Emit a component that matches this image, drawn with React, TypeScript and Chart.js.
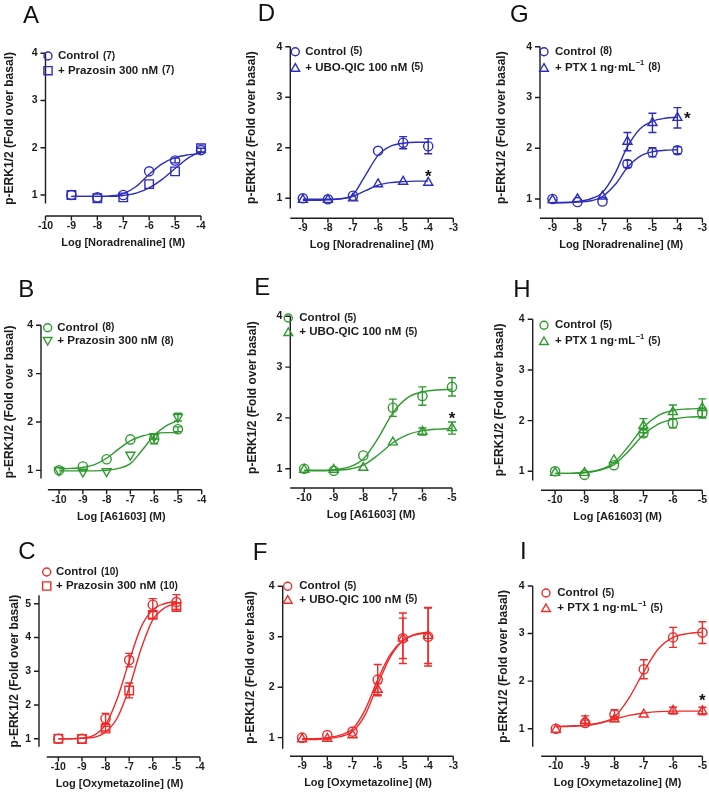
import React, { useEffect, useRef } from 'react';
import { Chart, registerables } from 'chart.js';

Chart.register(...registerables);

const FONT = '"Liberation Sans", Arial, Helvetica, sans-serif';
const BLUE = '#2d2dbd';
const GREEN = '#2f9a2f';
const RED = '#ee2a2a';
const INK = '#1c1c1c';

// ---------- text ----------
const yTitle = 'p-ERK1/2 (Fold over basal)';
const xTitleNA = 'Log [Noradrenaline] (M)';
const xTitleA6 = 'Log [A61603] (M)';
const xTitleOxy = 'Log [Oxymetazoline] (M)';

// ---------- tick labels ----------
const xTicks10to4 = [-10, -9, -8, -7, -6, -5, -4];
const xTicks9to3 = [-9, -8, -7, -6, -5, -4, -3];
const xTicks10to5 = [-10, -9, -8, -7, -6, -5];
const yTicks4 = [1, 2, 3, 4];
const yTicks5 = [1, 2, 3, 4, 5];

// ---------- concentrations ----------
const conc9to4 = [-9, -8, -7, -6, -5, -4];
const conc10to5 = [-10, -9, -8, -7, -6, -5];
const fit9to4 = [-9, -8.5, -8, -7.5, -7, -6.5, -6, -5.5, -5, -4.5, -4];
const fit10to5 = [-10, -9.5, -9, -8.5, -8, -7.5, -7, -6.5, -6, -5.5, -5];

// ---------- Panel A ----------
const ctrlA = [1.0, 0.95, 1.0, 1.5, 1.73, 1.95];
const ctrlErrA = [0, 0, 0, 0, 0.05, 0.04];
const trtA = [1.0, 0.93, 0.95, 1.23, 1.5, 1.99];
const trtErrA = [0, 0, 0, 0, 0, 0];
const ctrlFitA = [0.97, 0.97, 0.97, 0.98, 1.03, 1.18, 1.44, 1.66, 1.79, 1.85, 1.88];
const trtFitA = [0.97, 0.97, 0.97, 0.97, 0.99, 1.04, 1.15, 1.33, 1.56, 1.78, 1.93];
const legendA = ['Control', '+ Prazosin 300 nM'];
const nA = ['(7)', '(7)'];

// ---------- Panel D ----------
const ctrlD = [1.0, 0.98, 1.05, 1.94, 2.1, 2.03];
const ctrlErrD = [0, 0, 0, 0, 0.12, 0.15];
const trtD = [0.97, 0.97, 1.0, 1.28, 1.33, 1.31];
const trtErrD = [0, 0, 0, 0, 0, 0];
const ctrlFitD = [0.98, 0.98, 0.98, 0.99, 1.07, 1.46, 1.85, 2.03, 2.09, 2.11, 2.11];
const trtFitD = [0.96, 0.96, 0.97, 0.99, 1.04, 1.15, 1.26, 1.31, 1.33, 1.34, 1.34];
const legendD = ['Control', '+ UBO-QIC 100 nM'];
const nD = ['(5)', '(5)'];
const starD = { x: -4, y: 1.52 };

// ---------- Panel G ----------
const ctrlG = [1.0, 0.94, 0.95, 1.69, 1.92, 1.96];
const ctrlErrG = [0, 0, 0, 0.07, 0.09, 0.07];
const trtG = [0.98, 1.0, 1.05, 2.13, 2.5, 2.6];
const trtErrG = [0, 0, 0, 0.18, 0.19, 0.2];
const ctrlFitG = [0.93, 0.93, 0.94, 0.96, 1.05, 1.28, 1.62, 1.84, 1.93, 1.96, 1.97];
const trtFitG = [0.92, 0.93, 0.95, 1.0, 1.13, 1.5, 2.03, 2.38, 2.53, 2.59, 2.61];
const legendG = ['Control', '+ PTX 1 ng·mL'];
const supG = ['', '−1'];
const nG = ['(8)', '(8)'];
const starG = { x: -3.6, y: 2.66 };

// ---------- Panel B ----------
const ctrlB = [1.0, 1.08, 1.23, 1.64, 1.65, 1.85];
const ctrlErrB = [0, 0, 0, 0, 0.1, 0.05];
const trtB = [1.0, 0.97, 0.98, 1.32, 1.7, 2.1];
const trtErrB = [0, 0, 0, 0, 0.05, 0.08];
const ctrlFitB = [1.03, 1.04, 1.06, 1.12, 1.25, 1.44, 1.61, 1.71, 1.76, 1.78, 1.78];
const trtFitB = [0.99, 0.99, 0.99, 0.99, 1.0, 1.04, 1.14, 1.42, 1.72, 1.92, 2.03];
const legendB = ['Control', '+ Prazosin 300 nM'];
const nB = ['(8)', '(8)'];

// ---------- Panel E ----------
const ctrlE = [1.0, 0.96, 1.26, 2.2, 2.43, 2.61];
const ctrlErrE = [0, 0, 0, 0.17, 0.18, 0.18];
const trtE = [0.98, 0.98, 1.02, 1.52, 1.73, 1.8];
const trtErrE = [0, 0, 0, 0, 0.07, 0.12];
const ctrlFitE = [0.97, 0.97, 0.98, 1.03, 1.19, 1.6, 2.1, 2.4, 2.51, 2.55, 2.56];
const trtFitE = [0.96, 0.96, 0.97, 0.99, 1.07, 1.27, 1.51, 1.67, 1.75, 1.78, 1.79];
const legendE = ['Control', '+ UBO-QIC 100 nM'];
const nE = ['(5)', '(5)'];
const starE = { x: -5, y: 2.06 };

// ---------- Panel H ----------
const ctrlH = [1.0, 0.93, 1.12, 1.75, 1.95, 2.15];
const ctrlErrH = [0, 0, 0, 0.07, 0.09, 0.1];
const trtH = [0.97, 0.97, 1.22, 1.9, 2.17, 2.25];
const trtErrH = [0, 0, 0, 0.14, 0.14, 0.18];
const ctrlFitH = [0.96, 0.96, 0.97, 1.02, 1.13, 1.4, 1.72, 1.93, 2.03, 2.07, 2.08];
const trtFitH = [0.96, 0.96, 0.98, 1.03, 1.17, 1.5, 1.87, 2.1, 2.2, 2.23, 2.24];
const legendH = ['Control', '+ PTX 1 ng·mL'];
const supH = ['', '−1'];
const nH = ['(5)', '(5)'];

// ---------- Panel C ----------
const ctrlC = [1.0, 1.0, 1.6, 3.33, 4.97, 5.05];
const ctrlErrC = [0, 0, 0.15, 0.2, 0.18, 0.22];
const trtC = [1.0, 0.99, 1.3, 2.43, 4.67, 4.9];
const trtErrC = [0, 0, 0.07, 0.22, 0.1, 0.12];
const ctrlFitC = [1.0, 1.0, 1.02, 1.1, 1.42, 2.2, 3.3, 4.3, 4.82, 5.0, 5.07];
const trtFitC = [1.0, 1.0, 1.01, 1.04, 1.2, 1.62, 2.5, 3.65, 4.52, 4.88, 5.0];
const legendC = ['Control', '+ Prazosin 300 nM'];
const nC = ['(10)', '(10)'];

// ---------- Panel F ----------
const ctrlF = [1.0, 1.05, 1.12, 2.15, 2.97, 3.0];
const ctrlErrF = [0, 0, 0, 0.3, 0.5, 0.58];
const trtF = [0.97, 0.98, 1.05, 1.95, 2.97, 3.02];
const trtErrF = [0, 0, 0, 0.12, 0.4, 0.55];
const ctrlFitF = [0.98, 0.98, 1.0, 1.05, 1.17, 1.55, 2.15, 2.65, 2.93, 3.05, 3.09];
const trtFitF = [0.96, 0.96, 0.98, 1.02, 1.12, 1.45, 2.05, 2.6, 2.92, 3.04, 3.08];
const legendF = ['Control', '+ UBO-QIC 100 nM'];
const nF = ['(5)', '(5)'];

// ---------- Panel I ----------
const ctrlI = [1.0, 1.12, 1.3, 2.25, 2.92, 3.02];
const ctrlErrI = [0, 0.06, 0.1, 0.2, 0.21, 0.23];
const trtI = [0.98, 1.17, 1.2, 1.3, 1.38, 1.37];
const trtErrI = [0, 0.1, 0.05, 0, 0.07, 0.08];
const ctrlFitI = [1.05, 1.06, 1.07, 1.12, 1.25, 1.65, 2.2, 2.68, 2.92, 3.0, 3.03];
const trtFitI = [1.04, 1.05, 1.07, 1.12, 1.2, 1.28, 1.33, 1.36, 1.37, 1.37, 1.37];
const legendI = ['Control', '+ PTX 1 ng·mL'];
const supI = ['', '−1'];
const nI = ['(5)', '(5)'];
const starI = { x: -5, y: 1.68 };

// ---------- panel assembly (layout separate from data) ----------
const panels: any[] = [
  {
    letter: 'A', color: BLUE, xTitle: xTitleNA, xTicks: xTicks10to4, yTicks: yTicks4,
    conc: conc9to4, ctrl: ctrlA, ctrlErr: ctrlErrA, trt: trtA, trtErr: trtErrA,
    fitX: fit9to4, ctrlFit: ctrlFitA, trtFit: trtFitA, trtStyle: 'rect', trtRot: 0,
    legend: legendA, sup: null, n: nA, star: null,
    box: { L: 45.5, T: 53.3, R: 201, B: 216 }, xMin: -10, xMax: -4, xLine: -10,
    yMin: 0.555, yMax: 4, yLineMin: 0.82, yGap: 36,
    letterPos: [23, 22.5], leg: { mx: 48, tx: 58, rows: [56, 70.7] },
  },
  {
    letter: 'D', color: BLUE, xTitle: xTitleNA, xTicks: xTicks9to3, yTicks: yTicks4,
    conc: conc9to4, ctrl: ctrlD, ctrlErr: ctrlErrD, trt: trtD, trtErr: trtErrD,
    fitX: fit9to4, ctrlFit: ctrlFitD, trtFit: trtFitD, trtStyle: 'triangle', trtRot: 0,
    legend: legendD, sup: null, n: nD, star: starD,
    box: { L: 290.3, T: 46.7, R: 453.3, B: 218.3 }, xMin: -9.5, xMax: -3, xLine: -9.5,
    yMin: 0.604, yMax: 4, yLineMin: 0.8, yGap: 39,
    letterPos: [257.7, 20.5], leg: { mx: 295.3, tx: 305.3, rows: [51.7, 67.7] },
  },
  {
    letter: 'G', color: BLUE, xTitle: xTitleNA, xTicks: xTicks9to3, yTicks: yTicks4,
    conc: conc9to4, ctrl: ctrlG, ctrlErr: ctrlErrG, trt: trtG, trtErr: trtErrG,
    fitX: fit9to4, ctrlFit: ctrlFitG, trtFit: trtFitG, trtStyle: 'triangle', trtRot: 0,
    legend: legendG, sup: supG, n: nG, star: starG,
    box: { L: 540, T: 46.7, R: 703.3, B: 218.3 }, xMin: -9.5, xMax: -3, xLine: -9.5,
    yMin: 0.62, yMax: 4, yLineMin: 0.81, yGap: 38.3,
    letterPos: [510, 21.7], leg: { mx: 544, tx: 555, rows: [51.7, 67.7] },
  },
  {
    letter: 'B', color: GREEN, xTitle: xTitleA6, xTicks: xTicks10to4, yTicks: yTicks4,
    conc: conc10to5, ctrl: ctrlB, ctrlErr: ctrlErrB, trt: trtB, trtErr: trtErrB,
    fitX: fit10to5, ctrlFit: ctrlFitB, trtFit: trtFitB, trtStyle: 'triangle', trtRot: 180,
    legend: legendB, sup: null, n: nB, star: null,
    box: { L: 41, T: 325.3, R: 201.7, B: 489.7 }, xMin: -10.76, xMax: -4, xLine: -10.47,
    yMin: 0.6, yMax: 4, yLineMin: 0.83, yGap: 31,
    letterPos: [18.3, 297], leg: { mx: 47.7, tx: 57.3, rows: [327.7, 341] },
  },
  {
    letter: 'E', color: GREEN, xTitle: xTitleA6, xTicks: xTicks10to5, yTicks: yTicks4,
    conc: conc10to5, ctrl: ctrlE, ctrlErr: ctrlErrE, trt: trtE, trtErr: trtErrE,
    fitX: fit10to5, ctrlFit: ctrlFitE, trtFit: trtFitE, trtStyle: 'triangle', trtRot: 0,
    legend: legendE, sup: null, n: nE, star: starE,
    box: { L: 290.3, T: 316.3, R: 452, B: 488 }, xMin: -10.47, xMax: -5, xLine: -10.47,
    yMin: 0.62, yMax: 4, yLineMin: 0.8, yGap: 37.6,
    letterPos: [254.3, 295.3], leg: { mx: 288.3, tx: 299.3, rows: [318, 332] },
  },
  {
    letter: 'H', color: GREEN, xTitle: xTitleA6, xTicks: xTicks10to5, yTicks: yTicks4,
    conc: conc10to5, ctrl: ctrlH, ctrlErr: ctrlErrH, trt: trtH, trtErr: trtErrH,
    fitX: fit10to5, ctrlFit: ctrlFitH, trtFit: trtFitH, trtStyle: 'triangle', trtRot: 0,
    legend: legendH, sup: supH, n: nH, star: null,
    box: { L: 532.7, T: 319.3, R: 702.3, B: 490.3 }, xMin: -10.76, xMax: -5, xLine: -10.48,
    yMin: 0.625, yMax: 4, yLineMin: 0.82, yGap: 32.7,
    letterPos: [513.3, 297], leg: { mx: 544, tx: 555, rows: [325.3, 341] },
  },
  {
    letter: 'C', color: RED, xTitle: xTitleOxy, xTicks: xTicks10to4, yTicks: yTicks5,
    conc: conc10to5, ctrl: ctrlC, ctrlErr: ctrlErrC, trt: trtC, trtErr: trtErrC,
    fitX: fit10to5, ctrlFit: ctrlFitC, trtFit: trtFitC, trtStyle: 'rect', trtRot: 0,
    legend: legendC, sup: null, n: nC, star: null,
    box: { L: 39, T: 595.3, R: 200, B: 757 }, xMin: -10.82, xMax: -4, xLine: -10.49,
    yMin: 0.458, yMax: 5.25, yLineMin: 0.76, yGap: 24,
    letterPos: [18.3, 558.7], leg: { mx: 46.7, tx: 56, rows: [572, 586] },
  },
  {
    letter: 'F', color: RED, xTitle: xTitleOxy, xTicks: xTicks9to3, yTicks: yTicks4,
    conc: conc9to4, ctrl: ctrlF, ctrlErr: ctrlErrF, trt: trtF, trtErr: trtErrF,
    fitX: fit9to4, ctrlFit: ctrlFitF, trtFit: trtFitF, trtStyle: 'triangle', trtRot: 0,
    legend: legendF, sup: null, n: nF, star: null,
    box: { L: 282.7, T: 586.3, R: 453.3, B: 756.3 }, xMin: -9.77, xMax: -3, xLine: -9.48,
    yMin: 0.63, yMax: 4, yLineMin: 0.78, yGap: 31.7,
    letterPos: [252.7, 560.3], leg: { mx: 287.7, tx: 299.3, rows: [586.3, 599.7] },
  },
  {
    letter: 'I', color: RED, xTitle: xTitleOxy, xTicks: xTicks10to5, yTicks: yTicks4,
    conc: conc10to5, ctrl: ctrlI, ctrlErr: ctrlErrI, trt: trtI, trtErr: trtErrI,
    fitX: fit10to5, ctrlFit: ctrlFitI, trtFit: trtFitI, trtStyle: 'triangle', trtRot: 0,
    legend: legendI, sup: supI, n: nI, star: starI,
    box: { L: 532.7, T: 586, R: 703.3, B: 756.3 }, xMin: -10.79, xMax: -5, xLine: -10.5,
    yMin: 0.42, yMax: 4, yLineMin: 0.62, yGap: 29.4,
    letterPos: [520, 558.7], leg: { mx: 546, tx: 557.3, rows: [593, 608] },
  },
];

const W = 709;
const H = 795;
const HX = 33.6;
const LW = 1.4;

function markerPath(ctx: CanvasRenderingContext2D, style: string, x: number, y: number, r: number, rot: number) {
  ctx.beginPath();
  if (style === 'circle') {
    ctx.arc(x, y, r, 0, Math.PI * 2);
  } else if (style === 'rect') {
    const s = r * Math.SQRT1_2;
    ctx.rect(x - s, y - s, 2 * s, 2 * s);
  } else {
    const d = rot === 180 ? -1 : 1;
    ctx.moveTo(x, y - d * r);
    ctx.lineTo(x + r * 0.866, y + d * r * 0.5);
    ctx.lineTo(x - r * 0.866, y + d * r * 0.5);
    ctx.closePath();
  }
}

function makePlugin(p: any) {
  return {
    id: 'prism' + p.letter,
    beforeDatasetsDraw(chart: any) {
      const ctx: CanvasRenderingContext2D = chart.ctx;
      const xs = chart.scales.x;
      const ys = chart.scales.y;
      const L = chart.chartArea.left;
      const B = chart.chartArea.bottom;
      ctx.save();
      ctx.strokeStyle = INK;
      ctx.lineWidth = LW;
      ctx.beginPath();
      const yTop = ys.getPixelForValue(p.yMax);
      const yBot = ys.getPixelForValue(p.yLineMin);
      ctx.moveTo(L, yTop);
      ctx.lineTo(L, yBot);
      p.yTicks.forEach((v: number) => {
        const y = ys.getPixelForValue(v);
        ctx.moveTo(L - 5, y);
        ctx.lineTo(L, y);
      });
      ctx.moveTo(xs.getPixelForValue(p.xLine), B);
      ctx.lineTo(xs.getPixelForValue(p.xMax), B);
      p.xTicks.forEach((v: number) => {
        const x = xs.getPixelForValue(v);
        ctx.moveTo(x, B);
        ctx.lineTo(x, B + 4.5);
      });
      ctx.stroke();

      // y-axis title, centred on the drawn y-axis line
      ctx.save();
      ctx.translate(L - p.yGap, (yTop + yBot) / 2);
      ctx.rotate(-Math.PI / 2);
      ctx.fillStyle = INK;
      ctx.font = `bold 12px ${FONT}`;
      ctx.textAlign = 'center';
      ctx.textBaseline = 'middle';
      ctx.fillText(yTitle, 0, 0);
      ctx.restore();

      // error bars
      ctx.strokeStyle = p.color;
      ctx.lineWidth = LW;
      const errs = (vals: number[], e: number[]) => {
        p.conc.forEach((c: number, i: number) => {
          if (!e[i]) return;
          const px = xs.getPixelForValue(c);
          const y1 = ys.getPixelForValue(vals[i] + e[i]);
          const y2 = ys.getPixelForValue(vals[i] - e[i]);
          ctx.beginPath();
          ctx.moveTo(px, y1);
          ctx.lineTo(px, y2);
          ctx.moveTo(px - 4, y1);
          ctx.lineTo(px + 4, y1);
          ctx.moveTo(px - 4, y2);
          ctx.lineTo(px + 4, y2);
          ctx.stroke();
        });
      };
      errs(p.ctrl, p.ctrlErr);
      errs(p.trt, p.trtErr);
      ctx.restore();
    },
    afterDatasetsDraw(chart: any) {
      const ctx: CanvasRenderingContext2D = chart.ctx;
      const xs = chart.scales.x;
      const ys = chart.scales.y;
      ctx.save();
      // panel letter
      ctx.fillStyle = '#111';
      ctx.font = `24px ${FONT}`;
      ctx.textBaseline = 'alphabetic';
      ctx.textAlign = 'left';
      ctx.fillText(p.letter, p.letterPos[0], p.letterPos[1]);

      // legend
      const styles = ['circle', p.trtStyle];
      const radii = [4, p.trtStyle === 'rect' ? 5.8 : 5];
      const rots = [0, p.trtRot];
      p.legend.forEach((label: string, i: number) => {
        const y = p.leg.rows[i];
        ctx.strokeStyle = p.color;
        ctx.lineWidth = LW;
        const dy = styles[i] === 'triangle' ? (rots[i] === 180 ? -1 : 1) : 0;
        markerPath(ctx, styles[i], p.leg.mx, y + dy, radii[i], rots[i]);
        ctx.stroke();
        ctx.fillStyle = INK;
        ctx.textBaseline = 'middle';
        ctx.font = `bold 11.5px ${FONT}`;
        let x = p.leg.tx;
        ctx.fillText(label, x, y);
        x += ctx.measureText(label).width;
        if (p.sup && p.sup[i]) {
          ctx.font = `bold 7.5px ${FONT}`;
          ctx.fillText(p.sup[i], x + 0.5, y - 4.5);
          x += ctx.measureText(p.sup[i]).width + 0.5;
        }
        ctx.font = `bold 10px ${FONT}`;
        ctx.fillText(p.n[i], x + 4, y);
      });

      // significance asterisk
      if (p.star) {
        ctx.fillStyle = '#111';
        ctx.font = `bold 17px ${FONT}`;
        ctx.textAlign = 'center';
        ctx.textBaseline = 'alphabetic';
        ctx.fillText('*', xs.getPixelForValue(p.star.x), ys.getPixelForValue(p.star.y) + 9.5);
      }
      ctx.restore();
    },
  };
}

function buildConfig(p: any) {
  const Wy = p.yGap + 7.2;
  const tickFont = { family: FONT, size: 10.5, weight: 'bold' as const };
  const pts = (xs: number[], ys: number[]) => xs.map((x, i) => ({ x, y: ys[i] }));
  return {
    type: 'scatter' as const,
    data: {
      datasets: [
        {
          data: pts(p.fitX, p.ctrlFit), showLine: true, borderColor: p.color, borderWidth: LW,
          pointRadius: 0, cubicInterpolationMode: 'monotone', fill: false, clip: false,
        },
        {
          data: pts(p.fitX, p.trtFit), showLine: true, borderColor: p.color, borderWidth: LW,
          pointRadius: 0, cubicInterpolationMode: 'monotone', fill: false, clip: false,
        },
        {
          data: pts(p.conc, p.ctrl), showLine: false, pointStyle: 'circle', pointRadius: 4.6,
          pointBorderColor: p.color, pointBackgroundColor: 'rgba(255,255,255,0)', pointBorderWidth: LW,
          clip: false,
        },
        {
          data: pts(p.conc, p.trt), showLine: false, pointStyle: p.trtStyle,
          pointRadius: p.trtStyle === 'rect' ? 6 : 5.2, pointRotation: p.trtRot,
          pointBorderColor: p.color, pointBackgroundColor: 'rgba(255,255,255,0)', pointBorderWidth: LW,
          clip: false,
        },
      ],
    },
    options: {
      animation: false,
      responsive: false,
      maintainAspectRatio: false,
      devicePixelRatio: 1,
      events: [],
      layout: {
        padding: {
          left: p.box.L - Wy,
          top: p.box.T,
          right: W - p.box.R,
          bottom: H - p.box.B - HX,
        },
      },
      plugins: { legend: { display: false }, tooltip: { enabled: false }, title: { display: false } },
      scales: {
        x: {
          type: 'linear', min: p.xMin, max: p.xMax,
          afterBuildTicks: (s: any) => { s.ticks = p.xTicks.map((v: number) => ({ value: v })); },
          afterFit: (s: any) => { s.height = HX; },
          grid: { display: false, drawTicks: true, tickLength: 4 },
          border: { display: false },
          ticks: { font: tickFont, color: INK, padding: 0, maxRotation: 0, autoSkip: false },
          title: { display: true, text: p.xTitle, color: INK, padding: 0, font: { family: FONT, size: 11, weight: 'bold' } },
        },
        y: {
          type: 'linear', min: p.yMin, max: p.yMax,
          afterBuildTicks: (s: any) => { s.ticks = p.yTicks.map((v: number) => ({ value: v })); },
          afterFit: (s: any) => { s.width = Wy; },
          grid: { display: false, drawTicks: true, tickLength: 5 },
          border: { display: false },
          ticks: { font: tickFont, color: INK, padding: 3 },
          title: { display: false },
        },
      },
    },
    plugins: [makePlugin(p)],
  };
}

function Panel({ p }: { p: any }) {
  const ref = useRef<HTMLCanvasElement>(null);
  useEffect(() => {
    const chart = new Chart(ref.current as HTMLCanvasElement, buildConfig(p) as any);
    return () => chart.destroy();
  }, [p]);
  return (
    <canvas
      ref={ref}
      width={W}
      height={H}
      style={{ position: 'absolute', left: 0, top: 0, width: W, height: H }}
    />
  );
}

export default function App() {
  return (
    <div style={{ position: 'fixed', left: 0, top: 0, width: W, height: H, background: '#fff', overflow: 'hidden' }}>
      {panels.map((p) => (
        <Panel key={p.letter} p={p} />
      ))}
    </div>
  );
}
